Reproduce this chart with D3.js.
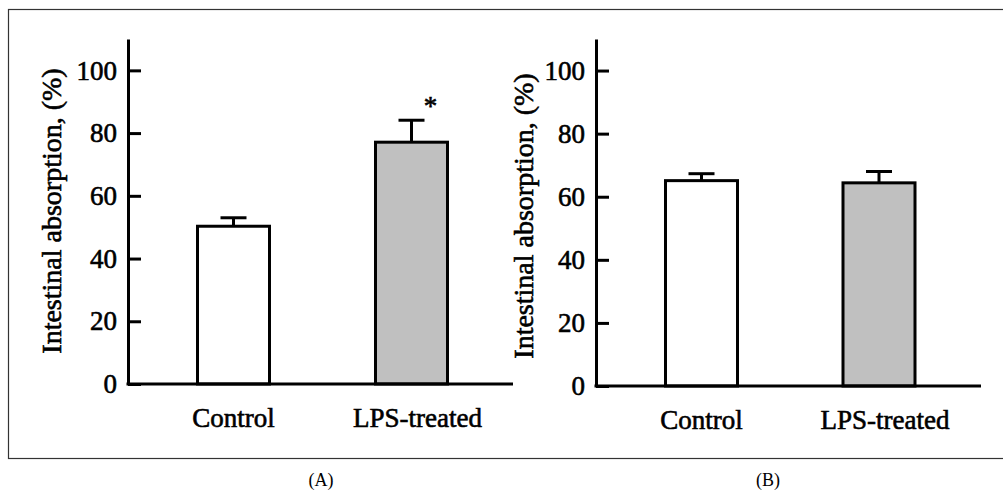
<!DOCTYPE html>
<html>
<head>
<meta charset="utf-8">
<script src="https://cdn.jsdelivr.net/npm/d3@7"></script>
<style>
  body { margin: 0; background: #fff; }
  svg text { font-family: "Liberation Serif", "Times New Roman", serif; fill: #000; }
  .axis path, .axis line { stroke: #000; stroke-width: 3; }
  .heavy { stroke: #000; stroke-width: 0.6px; }
</style>
</head>
<body>
<div id="vis"></div>
<script>
// data
var categories = ["Control", "LPS-treated"];
var meansA = [50.3, 77.1];
var errA = [2.7, 7.0];
var meansB = [65.1, 64.4];
var errB = [2.2, 3.6];
var yTicks = [0, 20, 40, 60, 80, 100];
var fills = ["#ffffff", "#c0c0c0"];
var yTitle = "Intestinal absorption, (%)";

var W = 1003, H = 490;
var svg = d3.select("#vis").append("svg")
    .attr("width", W)
    .attr("height", H);

// outer frame (right edge falls outside the picture)
svg.append("rect")
    .attr("x", 8.5).attr("y", 9.5)
    .attr("width", 1010).attr("height", 449)
    .attr("fill", "none")
    .attr("stroke", "#333")
    .attr("stroke-width", 1.2);

//one panel per plot
var panels = [
  {means: meansA, err: errA, axisX: 128, baseY: 384, topY: 39, endX: 513,
   centers: [233.5, 411.5], titleX: 61, titleY: 211, caption: "(A)", capX: 321, star: 1},
  {means: meansB, err: errB, axisX: 596, baseY: 386, topY: 39, endX: 981,
   centers: [701.5, 879], titleX: 533, titleY: 216, caption: "(B)", capX: 768, star: -1}
];

panels.forEach(function(p){
    var g = svg.append("g");

    var y = d3.scaleLinear()
        .domain([0, 110])
        .range([p.baseY, p.topY]);

    var x = d3.scaleOrdinal()
        .domain(categories)
        .range(p.centers);

    var barW = 72;

    //bars
    g.selectAll("rect.bar")
        .data(categories)
        .enter().append("rect")
        .attr("class", "bar")
        .attr("x", function(d){ return x(d) - barW/2; })
        .attr("y", function(d, i){ return y(p.means[i]); })
        .attr("width", barW)
        .attr("height", function(d, i){ return y(0) - y(p.means[i]); })
        .attr("fill", function(d, i){ return fills[i]; })
        .attr("stroke", "#000")
        .attr("stroke-width", 3);

    //error bars (upper only)
    categories.forEach(function(c, i){
        var top = y(p.means[i] + p.err[i]);
        g.append("line")
            .attr("x1", x(c)).attr("x2", x(c))
            .attr("y1", y(p.means[i])).attr("y2", top)
            .attr("stroke", "#000").attr("stroke-width", 3);
        g.append("line")
            .attr("x1", x(c) - 13).attr("x2", x(c) + 13)
            .attr("y1", top).attr("y2", top)
            .attr("stroke", "#000").attr("stroke-width", 3);
    });

    //significance star
    if (p.star >= 0) {
        var c = categories[p.star];
        g.append("text")
            .attr("class", "heavy")
            .attr("x", x(c) + 19)
            .attr("y", y(p.means[p.star] + p.err[p.star]) - 5)
            .attr("text-anchor", "middle")
            .attr("font-size", "27px")
            .text("*");
    }

    //y axis, ticks pointing inward
    g.append("g")
        .attr("class", "axis")
        .attr("transform", "translate(" + p.axisX + ",0)")
        .call(d3.axisLeft(y).tickValues(yTicks).tickSizeInner(-13).tickSizeOuter(0).tickPadding(11))
        .call(function(a){
            a.attr("font-family", null);
            a.selectAll("text")
                .attr("class", "heavy")
                .style("font-family", '"Liberation Serif", "Times New Roman", serif')
                .style("font-size", "27px");
        });

    //baseline
    g.append("line")
        .attr("x1", p.axisX - 1.5).attr("x2", p.endX)
        .attr("y1", y(0)).attr("y2", y(0))
        .attr("stroke", "#000").attr("stroke-width", 3);

    //category labels
    g.selectAll("text.cat")
        .data(categories)
        .enter().append("text")
        .attr("class", "cat heavy")
        .attr("x", function(d, i){ return x(d) + (i == 1 ? 6 : 0); })
        .attr("y", p.baseY + 43)
        .attr("text-anchor", "middle")
        .attr("font-size", "27px")
        .text(function(d){ return d; });

    //y title
    g.append("text")
        .attr("class", "heavy")
        .attr("transform", "translate(" + p.titleX + "," + p.titleY + ") rotate(-90)")
        .attr("text-anchor", "middle")
        .attr("font-size", "28px")
        .text(yTitle);

    //caption below the frame
    svg.append("text")
        .attr("x", p.capX)
        .attr("y", 486)
        .attr("text-anchor", "middle")
        .attr("font-size", "18px")
        .text(p.caption);
});
</script>
</body>
</html>
